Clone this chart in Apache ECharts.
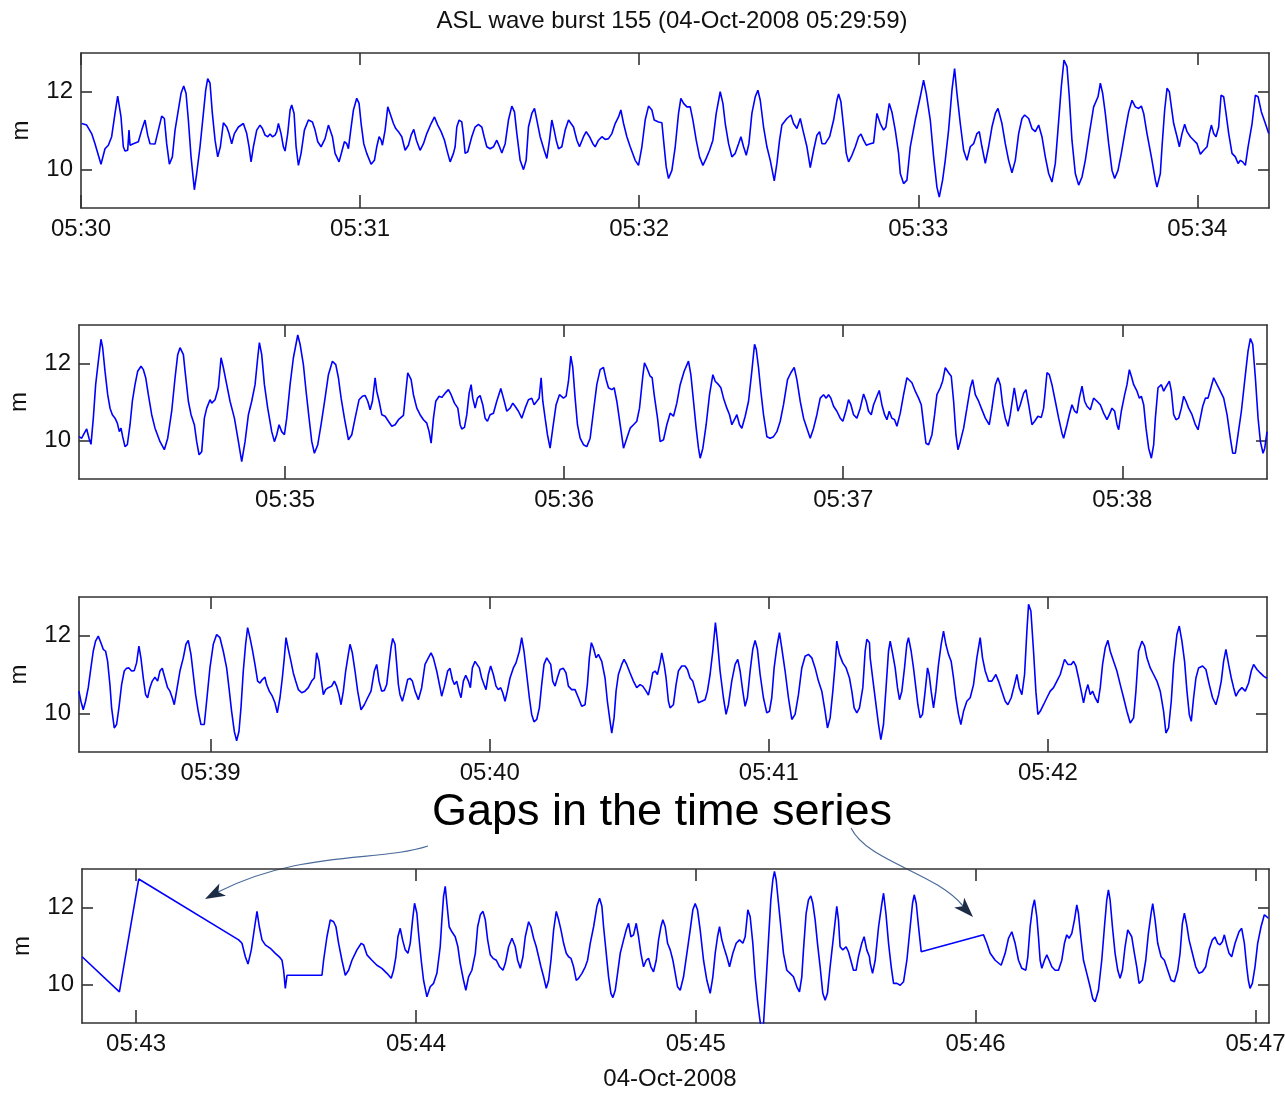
<!DOCTYPE html>
<html><head><meta charset="utf-8">
<script src="https://cdn.jsdelivr.net/npm/echarts@6/dist/echarts.min.js"></script>
<style>html,body{margin:0;padding:0;background:#fff}#c{width:1285px;height:1093px}</style>
</head><body><div id="c"></div>
<script>
// time in seconds after 05:30:00 on 04-Oct-2008, value in metres
const p1 = [[0.14,11.18],[1.22,11.14],[2.29,10.92],[3.01,10.66],[4.30,10.13],[5.16,10.53],[5.88,10.62],[6.59,10.84],[7.31,11.44],[7.89,11.89],[8.60,11.35],[9.10,10.58],[9.46,10.47],[10.04,10.49],[10.32,11.01],[10.54,10.62],[11.25,10.66],[12.33,10.71],[13.05,11.01],[13.76,11.27],[14.34,10.88],[14.84,10.66],[15.91,10.65],[16.63,11.01],[17.35,11.37],[17.92,11.31],[18.42,10.66],[19.00,10.13],[19.64,10.32],[20.22,11.01],[20.93,11.53],[21.51,11.96],[22.08,12.15],[22.58,11.96],[23.08,11.27],[23.66,10.32],[24.37,9.47],[24.87,9.89],[25.59,10.58],[26.31,11.44],[26.81,12.04],[27.24,12.34],[27.74,12.22],[28.24,11.44],[28.82,10.75],[29.39,10.32],[29.96,10.58],[30.61,11.20],[31.33,11.09],[31.83,10.92],[32.40,10.66],[32.97,10.92],[33.84,11.09],[34.91,11.18],[35.63,10.92],[36.13,10.58],[36.56,10.19],[37.06,10.58],[37.78,11.01],[38.49,11.14],[39.00,11.05],[39.57,10.88],[40.14,10.84],[40.65,10.91],[41.15,10.84],[41.72,10.88],[42.08,10.97],[42.44,11.18],[43.01,10.92],[43.51,10.58],[43.87,10.47],[44.44,10.92],[44.95,11.53],[45.30,11.66],[45.81,11.44],[46.24,10.58],[46.74,10.10],[47.31,10.41],[48.03,11.01],[48.89,11.27],[49.75,11.22],[50.32,11.01],[50.90,10.71],[51.61,10.58],[52.47,10.79],[53.19,11.14],[53.55,11.14],[54.05,10.84],[54.62,10.41],[55.48,10.19],[56.06,10.45],[56.63,10.71],[57.13,10.66],[57.49,10.53],[57.99,11.01],[58.57,11.53],[59.28,11.83],[59.78,11.70],[60.22,11.18],[60.79,10.66],[61.43,10.41],[62.37,10.13],[63.08,10.23],[63.58,10.58],[64.09,10.84],[64.52,10.75],[64.80,10.62],[65.38,11.01],[65.95,11.61],[66.45,11.44],[67.17,11.18],[67.67,11.05],[68.24,10.97],[68.96,10.84],[69.68,10.49],[70.39,10.62],[70.97,10.88],[71.54,11.03],[72.11,10.75],[72.90,10.49],[73.62,10.66],[74.34,10.92],[75.27,11.18],[75.99,11.35],[76.70,11.14],[77.42,10.97],[78.14,10.75],[78.85,10.41],[79.36,10.19],[80.07,10.41],[80.43,10.58],[80.79,11.09],[81.29,11.27],[81.86,11.22],[82.22,10.88],[82.58,10.41],[83.15,10.45],[84.01,10.84],[84.73,11.09],
[85.45,11.16],[86.17,11.09],[86.67,10.84],[87.24,10.58],[87.96,10.53],[88.68,10.58],[89.39,10.75],[89.97,10.58],[90.47,10.42],[91.19,10.66],[91.90,11.27],[92.62,11.63],[93.19,11.48],[93.70,10.92],[94.41,10.23],[95.13,9.99],[95.70,10.23],[96.20,11.09],[96.92,11.44],[97.50,11.57],[98.00,11.27],[98.71,10.84],[99.57,10.49],[100.15,10.28],[100.72,10.75],[101.22,11.27],[101.72,11.01],[102.15,10.75],[102.66,10.53],[103.37,10.58],[104.09,11.01],[104.81,11.27],[105.17,11.31],[105.88,11.09],[106.60,10.75],[107.17,10.58],[108.03,10.84],[108.61,10.97],[109.32,10.84],[110.04,10.66],[110.54,10.58],[111.26,10.75],[111.98,10.84],[112.69,10.77],[113.41,10.79],[114.13,10.92],[114.84,11.18],[115.56,11.35],[116.06,11.53],[116.64,11.18],[117.35,10.84],[118.07,10.58],[119.14,10.23],[119.86,10.10],[120.58,10.58],[121.29,11.27],[122.01,11.63],[122.73,11.53],[123.23,11.27],[124.16,11.22],[124.88,11.20],[125.24,10.75],[125.81,10.06],[126.31,9.76],[127.03,9.97],[127.75,10.58],[128.46,11.44],[128.96,11.83],[129.54,11.70],[130.26,11.61],[130.97,11.61],[131.55,11.27],[132.26,10.75],[132.98,10.32],[133.70,10.10],[134.41,10.28],[135.13,10.49],[135.85,10.75],[136.56,11.44],[137.42,12.00],[138.00,11.70],[138.50,11.18],[139.22,10.66],[139.93,10.32],[140.65,10.41],[141.37,10.66],[141.87,10.84],[142.44,10.58],[143.02,10.36],[143.59,10.66],[144.23,11.44],[144.95,11.87],[145.52,12.04],[146.03,11.78],[146.74,11.09],[147.46,10.58],[148.18,10.23],[149.04,9.70],[149.61,10.15],[150.18,10.75],[150.68,11.14],[151.76,11.31],[152.62,11.40],[153.19,11.18],[153.91,11.05],[154.63,11.31],[155.20,11.01],[156.06,10.58],[156.78,10.04],[157.50,10.49],[158.21,10.88],[158.78,10.97],[159.29,10.66],[160.00,10.66],[160.94,10.84],[161.80,11.27],[162.51,11.78],[162.87,11.94],[163.37,11.74],[163.95,11.09],[164.52,10.41],[165.02,10.19],[165.74,10.36],[166.46,10.58],[167.17,10.84],[167.68,10.91],[168.25,10.75],[168.82,10.62],[169.68,10.66],
[170.39,10.68],[171.11,11.44],[171.83,11.18],[172.54,11.01],[173.04,11.09],[173.76,11.70],[174.33,11.48],[175.05,11.01],[175.77,10.41],[176.13,9.89],[176.84,9.63],[177.56,9.72],[178.28,10.58],[179.35,11.27],[180.43,11.87],[181.14,12.30],[181.72,11.96],[182.58,11.27],[183.30,10.32],[184.01,9.54],[184.51,9.28],[185.23,9.72],[185.80,10.23],[186.52,11.01],[187.24,12.04],[187.81,12.60],[188.31,11.96],[189.03,11.18],[189.75,10.49],[190.46,10.23],[191.18,10.58],[191.90,10.66],[192.61,10.92],[193.12,10.97],[193.69,10.58],[194.41,10.15],[195.12,10.58],[195.84,11.09],[196.56,11.44],[197.13,11.57],[197.99,11.18],[198.71,10.66],[199.42,10.23],[200.14,9.91],[200.86,10.23],[201.58,10.92],[202.29,11.31],[202.87,11.40],[203.73,11.31],[204.44,11.05],[205.16,10.97],[205.88,11.14],[206.59,10.84],[207.31,10.32],[208.03,9.89],[208.74,9.67],[209.46,10.15],[210.03,11.01],[210.75,12.13],[211.32,12.82],[211.97,12.65],[212.47,11.87],[213.04,10.75],[213.76,9.89],[214.48,9.59],[215.20,9.80],[215.91,10.23],[216.77,10.92],[217.70,11.61],[218.64,11.87],[219.14,12.22],[219.64,11.96],[220.21,11.44],[220.93,10.66],[221.65,9.97],[222.22,9.76],[222.94,9.97],[223.65,10.41],[224.51,11.01],[225.23,11.48],[225.95,11.78],[226.66,11.61],[227.38,11.57],[227.96,11.63],[228.46,11.44],[229.17,10.92],[230.11,10.32],[230.97,9.72],[231.32,9.54],[232.04,9.89],[232.40,10.58],[232.97,11.53],[233.48,12.09],[233.98,12.00],[234.41,11.61],[234.91,11.18],[235.63,10.84],[236.13,10.58],[236.70,10.92],[237.27,11.16],[237.78,10.97],[238.49,10.84],[239.21,10.75],[239.93,10.66],[240.64,10.39],[241.36,10.49],[242.08,10.58],[242.58,10.92],[243.01,11.14],[243.51,10.92],[244.01,10.84],[244.58,11.09],[245.09,11.91],[245.66,11.87],[246.16,11.44],[246.74,10.92],[247.45,10.41],[248.17,10.32],[248.75,10.15],[249.25,10.23],[249.75,10.19],[250.32,10.10],[250.90,10.58],[251.76,11.18],[252.47,11.91],[253.05,11.87],[253.76,11.48],[254.62,11.18],[255.34,10.92]];

const p2 = [[255.70,10.10],[256.27,10.06],[256.85,10.19],[257.35,10.30],[257.85,10.06],[258.28,9.90],[258.78,10.58],[259.28,11.45],[259.86,12.06],[260.43,12.63],[260.79,12.41],[261.29,11.80],[261.87,11.19],[262.37,10.84],[262.87,10.67],[263.44,10.58],[263.94,10.45],[264.37,10.23],[264.73,10.32],[265.09,10.10],[265.59,9.84],[266.09,9.89],[266.67,10.41],[267.17,11.02],[267.74,11.45],[268.32,11.80],[269.03,11.93],[269.54,11.84],[270.04,11.63],[270.61,11.19],[271.33,10.67],[272.04,10.32],[273.12,9.97],[274.05,9.76],[274.77,10.06],[275.63,10.76],[276.35,11.63],[276.92,12.23],[277.42,12.41],[278.14,12.23],[278.50,11.80],[279.21,11.02],[279.79,10.67],[280.50,10.41],[281.00,9.97],[281.51,9.63],[282.08,9.71],[282.65,10.58],[283.16,10.84],[283.87,11.06],[284.23,10.97],[284.95,11.06],[285.66,11.37],[286.24,12.15],[286.74,11.89],[287.46,11.45],[288.17,11.02],[289.11,10.58],[289.97,9.97],[290.68,9.45],[291.40,9.97],[292.12,10.67],[292.83,11.02],[293.55,11.45],[294.12,12.15],[294.48,12.54],[294.98,12.23],[295.56,11.45],[296.27,10.84],[297.13,10.23],[297.71,9.97],[298.21,10.15],[298.71,10.41],[299.28,10.23],[299.86,10.15],[300.36,10.58],[301.08,11.45],[301.79,12.15],[302.73,12.74],[303.23,12.50],[303.94,11.97],[304.52,11.28],[305.16,10.58],[305.74,9.97],[306.31,9.67],[307.03,9.89],[307.74,10.41],[308.60,11.10],[309.32,11.71],[310.18,12.06],[310.90,11.97],[311.47,11.63],[312.05,11.10],[312.76,10.58],[313.62,10.02],[314.34,10.15],[315.06,10.58],[315.91,11.06],[316.63,11.15],[317.20,11.17],[317.78,11.02],[318.28,10.80],[318.78,11.02],[319.36,11.63],[319.71,11.28],[320.22,11.02],[320.79,10.67],[321.51,10.63],[322.22,10.50],[322.94,10.37],[323.66,10.41],[324.38,10.54],[325.45,10.65],[326.38,11.76],[327.10,11.58],[327.60,11.19],[328.32,10.84],[329.03,10.67],[329.75,10.54],[330.47,10.45],[330.97,10.23],[331.40,9.93],[331.90,10.58],[332.40,11.02],[333.12,11.15],[333.69,11.12],[334.41,11.23],[335.13,11.32],[335.70,11.19],[336.42,10.97],[337.14,10.84],[337.64,10.41],[337.99,10.30],[338.57,10.34],[339.07,10.67],[339.57,11.23],[340.00,11.45],
[340.35,11.10],[340.86,10.84],[341.36,11.10],[341.93,11.17],[342.50,10.93],[343.01,10.58],[343.51,10.50],[344.08,10.67],[344.80,10.71],[345.51,11.02],[346.38,11.35],[346.95,11.10],[347.67,10.76],[348.38,10.84],[348.96,10.97],[349.46,10.89],[350.17,10.76],[350.89,10.58],[351.61,10.84],[352.32,11.06],[353.04,11.10],[353.54,10.93],[354.12,11.02],[354.62,11.10],[355.05,11.63],[355.41,11.02],[355.91,10.58],[356.41,10.15],[356.98,9.80],[357.56,10.32],[358.27,10.93],[358.99,11.19],[359.85,11.10],[360.42,11.15],[360.93,11.54],[361.43,12.19],[361.86,11.89],[362.36,11.10],[362.86,10.41],[363.44,10.06],[364.15,9.89],[364.87,9.84],[365.59,10.06],[366.30,10.76],[367.02,11.45],[367.74,11.84],[368.45,11.90],[369.03,11.58],[369.53,11.37],[370.25,11.32],[370.75,11.37],[371.32,11.02],[372.04,10.41],[372.76,9.80],[373.47,10.06],[374.19,10.32],[374.91,10.41],[375.62,10.50],[376.20,10.84],[376.91,11.67],[377.27,12.02],[377.77,11.89],[378.49,11.67],[378.92,11.63],[379.35,11.19],[380.07,10.58],[380.64,9.97],[381.36,10.02],[382.07,10.41],[382.79,10.71],[383.51,10.63],[384.22,10.97],[384.94,11.45],[385.80,11.80],[386.73,12.06],[387.24,11.71],[387.81,11.02],[388.38,10.32],[388.88,9.80],[389.24,9.54],[389.82,9.80],[390.53,10.41],[391.25,11.19],[391.97,11.71],[392.47,11.54],[393.19,11.45],[393.69,11.37],[394.26,11.10],[394.98,10.84],[395.55,10.67],[396.05,10.41],[396.77,10.58],[397.13,10.67],[397.70,10.41],[398.20,10.32],[398.92,10.63],[399.64,11.02],[400.35,11.80],[400.93,12.50],[401.29,12.37],[401.79,11.89],[402.29,11.28],[402.86,10.67],[403.58,10.10],[404.30,10.06],[405.01,10.10],[405.73,10.23],[406.45,10.50],[407.16,10.93],[408.02,11.58],[408.74,11.76],[409.46,11.90],[410.03,11.58],[410.75,11.02],[411.47,10.58],[412.18,10.32],[412.90,10.06],[413.62,10.32],[414.33,10.67],[415.05,11.10],[415.77,11.19],[416.34,11.10],[416.84,11.19],[417.34,11.10],[417.92,10.89],[418.63,10.76],[419.35,10.58],[419.92,10.50],[420.64,10.80],[421.14,11.06],[421.64,10.93],[422.22,10.67],[422.93,10.58],[423.65,10.84],[424.37,11.21],[424.94,11.02],[425.44,10.76],[426.02,10.67],
[426.52,10.93],[427.24,11.15],[427.74,11.30],[428.31,10.93],[428.89,10.67],[429.39,10.54],[429.89,10.76],[430.46,10.58],[431.04,10.54],[431.54,10.37],[432.26,10.71],[432.97,11.19],[433.69,11.63],[434.05,11.67],[434.77,11.50],[435.48,11.28],[436.20,11.10],[436.77,10.93],[437.28,10.41],[437.78,9.93],[438.35,9.89],[439.07,10.15],[439.64,10.67],[440.14,11.19],[440.86,11.37],[441.36,11.54],[441.93,11.89],[442.65,11.76],[443.22,11.67],[443.73,11.02],[444.23,10.15],[444.66,9.76],[445.16,9.97],[445.88,10.32],[446.59,10.84],[447.31,11.37],[447.81,11.58],[448.39,11.19],[449.10,11.02],[449.68,10.84],[450.54,10.58],[451.40,10.41],[451.97,10.84],[452.69,11.45],[453.26,11.63],[453.76,11.45],[454.26,10.93],[454.84,10.58],[455.41,10.37],[455.91,10.67],[456.27,10.97],[456.77,11.37],[457.13,11.10],[457.56,10.76],[458.06,10.93],[458.78,11.23],[459.28,11.32],[459.86,10.93],[460.57,10.41],[461.15,10.50],[461.86,10.63],[462.58,10.60],[463.08,10.84],[463.80,11.76],[464.30,11.71],[464.87,11.45],[465.59,11.02],[466.31,10.58],[467.02,10.19],[467.38,10.06],[468.10,10.41],[468.60,10.67],[469.17,10.93],[469.75,10.76],[470.25,10.71],[470.75,11.10],[471.33,11.41],[471.90,11.02],[472.40,10.89],[473.12,10.80],[473.83,11.10],[474.55,11.02],[475.27,10.93],[475.98,10.71],[476.70,10.54],[477.20,10.67],[477.78,10.84],[478.35,10.76],[478.85,10.41],[479.21,10.28],[479.78,10.76],[480.50,11.19],[481.00,11.45],[481.51,11.84],[481.94,11.67],[482.44,11.45],[483.15,11.28],[483.66,11.10],[484.09,11.15],[484.59,10.93],[485.09,10.32],[485.66,9.80],[486.24,9.54],[486.74,9.89],[487.10,10.58],[487.67,11.37],[488.39,11.45],[488.89,11.28],[489.46,11.41],[490.11,11.54],[490.54,11.28],[491.04,10.67],[491.54,10.54],[492.11,10.58],[492.69,10.84],[493.19,11.15],[493.69,11.02],[494.26,10.84],[494.98,10.67],[495.70,10.41],[496.27,10.28],[496.77,10.58],[497.28,10.89],[497.85,11.10],[498.42,11.10],[498.92,11.32],[499.64,11.63],[500.36,11.45],[501.07,11.28],[501.79,11.10],[502.51,10.67],[503.22,10.06],[503.73,9.67],[504.30,9.67],[504.87,10.15],[505.59,10.76],[506.45,11.71],[507.02,12.32],[507.53,12.65],[508.03,12.50],[508.60,11.63],[509.18,10.58],[509.68,9.97],[510.25,9.67],[510.61,9.80],[511.11,10.23]];

const p3 = [[511.68,10.57],[512.11,10.31],[512.61,10.09],[513.11,10.31],[513.69,10.66],[514.26,11.17],[514.76,11.60],[515.26,11.86],[515.84,11.99],[516.41,11.82],[516.91,11.65],[517.42,11.60],[517.85,11.34],[518.35,10.74],[518.71,10.14],[519.28,9.62],[519.78,9.71],[520.28,10.14],[520.86,10.74],[521.43,11.09],[521.93,11.16],[522.43,11.17],[523.01,11.09],[523.58,11.10],[524.08,11.30],[524.58,11.73],[525.01,11.43],[525.52,10.91],[526.02,10.48],[526.45,10.40],[526.95,10.66],[527.45,10.83],[528.02,10.93],[528.60,10.83],[529.10,11.09],[529.60,11.16],[530.17,10.91],[530.75,10.66],[531.25,10.57],[531.75,10.40],[532.18,10.22],[532.68,10.57],[533.40,11.09],[534.12,11.43],[534.69,11.78],[535.19,11.88],[535.77,11.52],[536.27,11.00],[536.77,10.48],[537.34,10.05],[537.92,9.71],[538.63,9.71],[539.14,10.31],[539.85,11.17],[540.57,11.78],[541.29,12.03],[542.00,11.95],[542.72,11.60],[543.44,11.17],[543.94,10.66],[544.51,10.05],[545.09,9.53],[545.59,9.29],[546.09,9.53],[546.52,10.14],[547.02,11.09],[547.52,11.78],[547.95,12.21],[548.45,11.95],[548.96,11.65],[549.53,11.26],[550.10,10.83],[550.61,10.78],[551.11,10.87],[551.68,10.93],[552.04,10.74],[552.61,10.57],[553.26,10.44],[553.83,10.27],[554.33,10.01],[554.91,10.40],[555.41,10.91],[555.84,11.43],[556.20,11.95],[556.70,11.65],[557.27,11.34],[557.77,11.04],[558.28,10.83],[558.85,10.61],[559.57,10.53],[560.28,10.57],[561.00,10.66],[561.72,10.83],[562.29,10.91],[562.79,11.56],[563.29,11.34],[563.72,10.91],[564.23,10.48],[564.73,10.61],[565.30,10.66],[566.02,10.70],[566.59,10.83],[567.09,10.70],[567.60,10.48],[568.03,10.22],[568.53,10.57],[569.03,11.09],[569.60,11.52],[569.96,11.78],[570.46,11.56],[571.04,11.09],[571.61,10.57],[572.33,10.09],[573.04,10.22],[573.76,10.40],[574.48,10.57],[575.19,11.09],[575.70,11.26],[576.20,10.83],[576.77,10.57],[577.35,10.59],[577.85,10.74],[578.35,11.26],[578.78,11.69],[579.14,11.93],[579.64,11.78],[580.00,11.26],[580.36,10.74],[580.71,10.48],[581.22,10.31],[581.79,10.57],[582.36,10.87],[582.86,10.90],[583.37,10.83],[583.94,10.57],[584.66,10.35],[585.37,10.66],[586.09,11.26],[586.81,11.43],[587.38,11.56],[587.88,11.43],[588.60,11.09],[589.32,10.66],[589.67,10.44],[590.25,10.70],[590.96,11.09],[591.46,11.16],[591.97,10.87],[592.40,10.74],[592.90,10.83],[593.40,10.57],[593.83,10.40],[594.33,10.83],[594.84,10.98],[595.41,10.83],[595.84,10.66],[596.27,11.17],[596.84,11.34],
[597.77,11.17],[598.27,10.91],[598.77,10.74],[599.20,10.61],[599.70,11.00],[600.20,11.22],[600.78,11.00],[601.35,10.70],[601.85,10.61],[602.36,10.66],[602.79,10.53],[603.29,10.31],[603.79,10.57],[604.36,10.91],[605.08,11.17],[605.65,11.30],[606.37,11.60],[606.87,11.95],[607.37,11.60],[607.95,11.00],[608.52,10.40],[609.02,9.97],[609.52,9.78],[610.10,9.84],[610.67,10.14],[611.17,10.74],[611.67,11.26],[612.25,11.43],[612.61,11.47],[613.11,11.26],[613.54,10.83],[614.04,10.70],[614.54,10.91],[615.12,11.13],[615.83,11.16],[616.40,11.04],[616.91,10.70],[617.62,10.61],[618.34,10.61],[619.06,10.40],[619.77,10.18],[620.49,10.22],[620.99,10.74],[621.42,11.43],[621.85,11.82],[622.28,11.69],[622.86,11.43],[623.36,11.52],[624.08,11.34],[624.79,10.91],[625.29,10.31],[625.87,9.79],[626.23,9.49],[626.73,9.88],[627.16,10.57],[627.66,11.00],[628.38,11.26],[628.88,11.39],[629.45,11.26],[630.17,11.04],[630.89,10.83],[631.60,10.66],[632.32,10.74],[632.89,10.70],[633.61,10.57],[634.11,10.47],[634.61,10.74],[635.04,11.04],[635.55,11.09],[636.05,11.00],[636.62,11.30],[636.98,11.56],[637.48,11.26],[637.91,10.91],[638.41,10.31],[638.77,10.14],[639.49,10.22],[640.06,10.74],[640.56,11.09],[641.28,11.22],[642.00,11.22],[642.50,11.13],[643.07,10.91],[643.65,10.83],[644.15,10.61],[644.86,10.27],[645.58,10.31],[646.30,10.35],[646.80,10.57],[647.37,11.00],[647.95,11.60],[648.52,12.34],[648.95,11.86],[649.52,11.09],[650.24,10.40],[650.81,9.97],[651.32,10.22],[652.03,10.83],[652.75,11.26],[653.32,11.39],[653.83,11.09],[654.40,10.57],[654.90,10.18],[655.40,10.40],[655.98,11.09],[656.55,11.65],[657.05,11.88],[657.55,11.65],[658.13,11.00],[658.84,10.40],[659.56,10.01],[660.13,10.05],[660.63,10.40],[661.14,11.17],[661.71,11.69],[662.28,12.08],[662.78,11.69],[663.50,11.09],[664.22,10.40],[664.94,9.84],[665.65,9.97],[666.37,10.48],[667.09,11.17],[667.80,11.47],[668.52,11.52],[669.24,11.43],[669.95,11.17],[670.67,10.83],[671.39,10.57],[672.10,10.05],[672.61,9.62],[673.18,9.88],[673.76,10.57],[674.26,11.26],[674.61,11.86],[675.19,11.52],[675.90,11.30],[676.62,11.17],[677.34,10.91],[677.84,10.57],[678.34,10.14],[678.92,10.01],[679.49,10.14],[680.21,10.66],[680.71,11.60],[681.07,11.91],[681.64,11.82],
[681.79,11.43],[682.50,10.74],[683.22,10.05],[683.58,9.71],[684.08,9.32],[684.65,9.71],[685.15,10.57],[685.73,11.60],[686.09,11.86],[686.59,11.56],[687.16,11.17],[687.66,10.66],[688.09,10.35],[688.60,10.57],[689.17,11.17],[689.67,11.78],[690.03,11.95],[690.60,11.60],[691.10,11.17],[691.61,10.66],[692.04,10.22],[692.54,9.88],[693.04,9.97],[693.61,10.57],[694.12,11.17],[694.47,11.00],[694.90,10.57],[695.41,10.14],[695.91,10.57],[696.48,11.26],[697.05,11.78],[697.56,12.12],[698.06,11.78],[698.63,11.52],[699.20,11.34],[699.71,10.91],[700.21,10.40],[700.78,9.97],[701.28,9.71],[701.86,10.05],[702.57,10.31],[703.29,10.40],[704.01,10.74],[704.72,11.43],[705.44,11.95],[705.94,11.43],[706.52,11.09],[707.23,10.83],[707.95,10.83],[708.81,11.00],[709.38,10.83],[710.10,10.57],[710.82,10.31],[711.39,10.22],[712.11,10.40],[712.82,10.74],[713.33,11.00],[713.83,10.66],[714.40,10.48],[714.98,11.00],[715.48,12.12],[715.84,12.81],[716.34,12.64],[716.91,11.60],[717.41,10.57],[717.84,9.97],[718.35,10.05],[719.06,10.22],[719.78,10.40],[720.50,10.57],[721.21,10.66],[721.93,10.83],[722.65,11.00],[723.58,11.39],[724.30,11.26],[725.01,11.26],[725.51,11.34],[726.02,11.22],[726.59,10.91],[727.16,10.57],[727.66,10.27],[728.17,10.57],[728.60,10.74],[729.10,10.48],[729.60,10.57],[730.17,10.40],[730.75,10.27],[731.25,10.66],[731.75,11.26],[732.32,11.69],[732.90,11.88],[733.40,11.60],[734.12,11.34],[734.83,11.09],[735.55,10.74],[736.27,10.40],[736.98,10.05],[737.70,9.75],[738.42,9.88],[738.92,10.57],[739.49,11.60],[740.21,11.86],[740.78,11.73],[741.28,11.43],[742.00,11.17],[742.72,11.00],[743.43,10.83],[744.15,10.57],[744.87,10.05],[745.37,9.49],[745.94,9.62],[746.52,10.31],[747.02,11.26],[747.73,12.03],[748.24,12.25],[748.81,11.86],[749.38,11.34],[749.89,10.57],[750.39,9.97],[750.82,9.79],[751.32,10.40],[751.82,10.91],[752.40,11.17],[753.25,11.22],[753.97,11.13],[754.69,10.74],[755.40,10.40],[756.12,10.22],[756.70,10.48],[757.27,10.83],[757.77,11.34],[758.27,11.65],[758.85,11.26],[759.42,10.91],[759.92,10.66],[760.42,10.44],[761.00,10.57],[761.71,10.66],[762.43,10.57],[763.15,10.78],[763.72,11.09],[764.22,11.26],[764.94,11.13],[765.66,11.04],[766.37,10.96],[767.09,10.90]];

const p4 = [[768.42,10.72],[776.42,9.81],[780.56,12.74],[801.99,11.16],[802.70,11.07],[803.42,10.72],[803.99,10.53],[804.70,10.90],[805.42,11.50],[805.92,11.90],[806.42,11.50],[806.99,11.16],[807.70,11.03],[808.78,10.94],[809.85,10.81],[810.70,10.72],[811.28,10.63],[811.63,10.37],[811.99,9.90],[812.35,10.24],[812.70,10.24],[819.85,10.24],[820.20,10.63],[820.92,11.24],[821.63,11.68],[822.35,11.63],[822.85,11.50],[823.42,11.07],[824.13,10.63],[824.85,10.24],[825.56,10.37],[826.28,10.63],[827.35,10.90],[828.28,11.07],[828.78,11.03],[829.49,10.77],[830.56,10.63],[831.63,10.50],[832.70,10.42],[833.78,10.29],[834.70,10.16],[835.20,10.37],[835.70,10.72],[836.13,11.24],[836.63,11.46],[837.13,11.16],[837.70,10.90],[838.28,10.81],[838.78,11.07],[839.28,11.68],[839.70,12.11],[840.20,11.85],[840.56,11.33],[841.13,10.63],[841.63,10.11],[842.35,9.68],[843.06,9.94],[843.78,10.03],[844.49,10.29],[845.20,10.98],[845.56,11.68],[845.92,12.29],[846.28,12.55],[846.63,12.11],[847.13,11.50],[847.70,11.37],[848.42,11.24],[848.99,10.98],[849.49,10.55],[850.20,10.11],[850.70,9.85],[851.28,10.20],[851.99,10.37],
[852.73,10.81],[853.23,11.50],[853.80,11.81],[854.37,11.90],[854.87,11.68],[855.37,11.16],[855.94,10.77],[856.52,10.68],[857.23,10.63],[857.94,10.46],[858.66,10.37],[859.16,10.55],[859.87,10.98],[860.59,11.20],[861.30,10.98],[861.80,10.63],[862.37,10.42],[862.94,10.72],[863.44,11.24],[864.16,11.63],[864.66,11.50],[865.23,11.20],[865.80,10.98],[866.30,10.72],[866.80,10.46],[867.37,10.20],[867.94,9.90],[868.45,10.11],[868.95,10.63],[869.52,11.42],[870.09,11.90],[870.59,11.68],[871.09,11.42],[871.66,11.07],[872.23,10.81],[872.73,10.72],[873.23,10.68],[873.80,10.46],[874.37,10.11],[874.87,10.16],[875.59,10.29],[876.30,10.46],[876.80,10.63],[877.37,11.07],[878.09,11.50],[878.80,12.03],[879.37,12.24],[879.87,12.03],[880.23,11.50],[880.80,10.81],[881.30,10.20],[881.80,9.77],[882.23,9.66],[882.73,9.85],[883.23,10.29],[883.80,10.81],[884.52,11.16],[885.09,11.42],[885.59,11.59],[886.09,11.24],[886.66,11.29],[887.23,11.59],[887.73,11.24],[888.23,10.81],[888.80,10.46],[889.37,10.63],[889.87,10.68],[890.37,10.46],[890.94,10.33],[891.52,10.63],[892.02,11.16],[892.52,11.50],[892.94,11.68],[893.45,11.50],[893.95,11.07],[894.52,10.90],[895.09,10.63],[895.59,10.29],[896.09,9.94],[896.66,9.85],[897.37,10.20],[898.09,10.81],[898.80,11.42],[899.37,11.94],[899.87,12.10],[900.37,11.94],[900.94,11.42],[901.66,10.63],[902.37,10.11],[903.09,9.77],[903.66,10.20],[904.16,10.81],[904.66,11.24],[905.09,11.50],[905.59,11.16],[906.09,10.94],[906.66,10.72],[907.23,10.46],[907.94,10.81],[908.66,11.07],[909.37,11.16],[910.09,11.07],[910.59,11.24],[911.16,11.94],[911.66,11.76],[912.23,11.07],[912.73,10.20],[913.23,9.59],[913.66,9.16],[914.16,8.72],[914.52,8.98],[915.09,10.11],[915.59,11.16],[916.09,12.20],[916.52,12.72],[916.87,12.94],[917.23,12.72],[917.73,12.11],[918.23,11.50],[918.80,10.81],[919.52,10.37],[920.23,10.29],[920.94,10.20],[921.66,9.94],[922.23,9.81],[922.73,10.20],[923.09,10.90],[923.66,11.85],[924.16,12.20],[924.66,12.30],[925.09,12.11],[925.59,11.68],[926.09,11.07],[926.66,10.46],[927.23,9.77],[927.73,9.59],[928.23,9.77],[928.80,10.46],[929.52,11.24],[930.23,12.03],[930.59,11.68],[930.94,10.98],[931.52,10.90],[932.23,10.98],[932.73,10.85],[933.23,10.63],[933.80,10.37],[934.37,10.37],[934.87,10.72],[935.59,11.07],[936.09,11.24],[936.66,10.90],[937.23,10.72],
[937.40,10.55],[937.90,10.29],[938.47,10.63],[939.19,11.50],[939.90,12.11],[940.26,12.37],[940.76,11.85],[941.33,11.07],[941.90,10.46],[942.40,10.03],[943.12,10.03],[943.83,9.98],[944.54,10.07],[945.26,10.63],[945.97,11.50],[946.47,12.11],[946.83,12.33],[947.26,12.11],[947.76,11.50],[948.33,10.85],[961.69,11.29],[962.40,11.07],[963.12,10.81],[964.19,10.63],[965.47,10.50],[966.33,10.81],[967.04,11.20],[967.76,11.37],[968.47,11.07],[969.19,10.63],[969.90,10.42],[970.76,10.37],[971.19,10.72],[971.69,11.50],[972.19,11.98],[972.62,12.20],[973.12,11.76],[973.47,11.24],[973.83,10.63],[974.19,10.42],[974.76,10.63],[975.26,10.77],[975.76,10.63],[976.33,10.46],[977.04,10.37],[977.76,10.37],[978.47,10.63],[979.04,11.07],[979.54,11.29],[980.04,11.20],[980.62,11.33],[981.19,11.68],[981.69,12.07],[982.04,11.85],[982.62,11.16],[983.12,10.63],[983.83,10.29],[984.54,9.94],[985.12,9.63],[985.62,9.55],[986.33,9.85],[987.04,10.63],[987.62,11.50],[988.12,12.20],[988.47,12.46],[988.83,12.20],[989.33,11.50],[989.90,10.81],[990.47,10.37],[990.97,10.16],[991.47,10.37],[992.04,10.98],[992.62,11.42],[992.90,11.46],[993.47,11.24],[994.04,10.81],[994.54,10.46],[995.04,10.03],[995.76,10.11],[996.47,10.63],[997.04,11.33],[997.62,11.85],[997.97,12.10],[998.47,11.68],[999.04,11.07],[999.76,10.72],[1000.47,10.63],[1001.19,10.37],[1001.90,10.11],[1002.62,10.07],[1003.33,10.37],[1003.83,10.81],[1004.33,11.59],[1004.76,11.85],[1005.26,11.55],[1005.76,11.16],[1006.47,10.81],[1007.19,10.46],[1007.90,10.29],[1008.62,10.33],[1009.33,10.46],[1010.04,10.90],[1010.76,11.16],[1011.33,11.23],[1011.90,11.07],[1012.40,11.03],[1012.90,11.11],[1013.33,11.29],[1013.83,11.03],[1014.33,10.81],[1014.90,10.72],[1015.62,11.07],[1016.47,11.37],[1017.04,11.46],[1017.62,11.07],[1018.12,10.46],[1018.47,10.11],[1018.83,9.90],[1019.33,10.03],[1019.90,10.46],[1020.47,11.07],[1021.19,11.50],[1021.90,11.81],[1022.40,11.76],[1022.76,11.72]];

const panels = [p1, p2, p3, p4];
const xRanges = [[0, 255.4], [255.7, 511.1], [511.7, 767.1], [768.4, 1022.9]];
const xTicks = [[0, 60, 120, 180, 240], [300, 360, 420, 480], [540, 600, 660, 720], [780, 840, 900, 960, 1020]];
const yRange = [9, 13];
const yTicks = [10, 12];
const titleText = 'ASL wave burst 155 (04-Oct-2008 05:29:59)';
const dateText = '04-Oct-2008';
const noteText = 'Gaps in the time series';
const yName = 'm';

const FONT = '"Liberation Sans", Arial, sans-serif';
const AX = '#333';
const gridBoxes = [
  {left: 81, top: 53, width: 1188, height: 155, containLabel: false, outerBoundsMode: 'none'},
  {left: 79, top: 325, width: 1188, height: 154, containLabel: false, outerBoundsMode: 'none'},
  {left: 79, top: 597, width: 1188, height: 155, containLabel: false, outerBoundsMode: 'none'},
  {left: 82, top: 869, width: 1187, height: 154, containLabel: false, outerBoundsMode: 'none'}
];
function fmt(v) {
  const m = 30 + Math.round(v / 60);
  return '05:' + String(m).padStart(2, '0');
}
const xAxes = [], yAxes = [], series = [];
gridBoxes.forEach((g, i) => {
  const [mn, mx] = xRanges[i];
  xAxes.push({
    gridIndex: i, type: 'value', position: 'bottom', min: mn, max: mx,
    axisLine: {show: true, onZero: false, lineStyle: {color: AX, width: 1.6}},
    axisTick: {show: true, inside: true, length: 13, customValues: xTicks[i], lineStyle: {color: AX, width: 1.6}},
    axisLabel: {show: true, customValues: xTicks[i], formatter: fmt, fontSize: 24, fontFamily: FONT, color: '#111', margin: 9, hideOverlap: false},
    splitLine: {show: false}
  });
  xAxes.push({
    gridIndex: i, type: 'value', position: 'top', min: mn, max: mx,
    axisLine: {show: true, onZero: false, lineStyle: {color: AX, width: 1.6}},
    axisTick: {show: true, inside: true, length: 12, customValues: xTicks[i], lineStyle: {color: AX, width: 1.6}},
    axisLabel: {show: false}, splitLine: {show: false}
  });
  yAxes.push({
    gridIndex: i, type: 'value', position: 'left', min: yRange[0], max: yRange[1],
    name: yName, nameLocation: 'middle', nameGap: 48, nameRotate: 90,
    nameTextStyle: {fontSize: 24, fontFamily: FONT, color: '#111'},
    axisLine: {show: true, onZero: false, lineStyle: {color: AX, width: 1.6}},
    axisTick: {show: true, inside: true, length: 11, customValues: yTicks, lineStyle: {color: AX, width: 1.6}},
    axisLabel: {show: true, customValues: yTicks, fontSize: 24, fontFamily: FONT, color: '#111', margin: 8},
    splitLine: {show: false}
  });
  yAxes.push({
    gridIndex: i, type: 'value', position: 'right', min: yRange[0], max: yRange[1],
    axisLine: {show: true, onZero: false, lineStyle: {color: AX, width: 1.6}},
    axisTick: {show: true, inside: true, length: 11, customValues: yTicks, lineStyle: {color: AX, width: 1.6}},
    axisLabel: {show: false}, splitLine: {show: false}
  });
  series.push({
    type: 'line', xAxisIndex: i * 2, yAxisIndex: i * 2, data: panels[i],
    showSymbol: false, symbol: 'none', clip: true, silent: true,
    lineStyle: {color: '#0000ff', width: 1.6}
  });
});

const chart = echarts.init(document.getElementById('c'), null, {renderer: 'canvas'});
chart.setOption({
  animation: false,
  backgroundColor: '#fff',
  grid: gridBoxes,
  xAxis: xAxes,
  yAxis: yAxes,
  series: series,
  graphic: [
    {type: 'text', x: 672, y: 21, style: {text: titleText, font: '24px ' + FONT, fill: '#111', align: 'center', verticalAlign: 'middle', textAlign: 'center', textVerticalAlign: 'middle'}},
    {type: 'text', x: 670, y: 1079, style: {text: dateText, font: '24px ' + FONT, fill: '#111', align: 'center', verticalAlign: 'middle', textAlign: 'center', textVerticalAlign: 'middle'}},
    {type: 'text', x: 662, y: 813, style: {text: noteText, font: '45px ' + FONT, fill: '#000', align: 'center', verticalAlign: 'middle', textAlign: 'center', textVerticalAlign: 'middle'}},
    {type: 'bezierCurve', shape: {x1: 428, y1: 846, cpx1: 380, cpy1: 862, cpx2: 300, cpy2: 850, x2: 218, y2: 892}, style: {stroke: '#4a6a9a', lineWidth: 1.2, fill: null}},
    {type: 'polygon', shape: {points: [[205, 899], [219.4, 883.4], [218.3, 892.0], [226.0, 895.8]]}, style: {fill: '#1c2c44'}},
    {type: 'bezierCurve', shape: {x1: 851, y1: 828, cpx1: 868, cpy1: 862, cpx2: 935, cpy2: 872, x2: 963, y2: 906}, style: {stroke: '#4a6a9a', lineWidth: 1.2, fill: null}},
    {type: 'polygon', shape: {points: [[973, 917], [954.2, 907.4], [962.7, 906.2], [964.2, 897.8]]}, style: {fill: '#1c2c44'}}
  ]
});
</script>
</body></html>
